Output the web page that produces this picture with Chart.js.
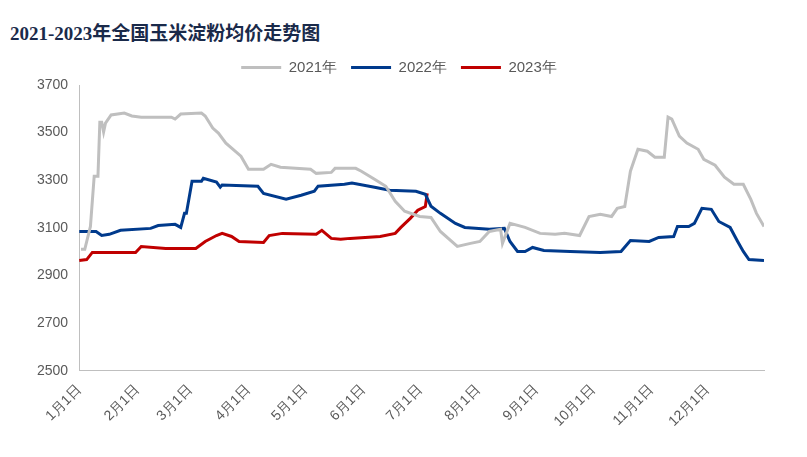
<!DOCTYPE html>
<html>
<head>
<meta charset="utf-8">
<script src="https://cdn.jsdelivr.net/npm/chart.js@4"></script>
<style>
  body { margin: 0; background: #fff; }
  #title { position: absolute; left: 10px; top: 18px; font: bold 19px "Liberation Serif", "Noto Sans CJK SC"; color: #1a2a4a; }
  #wrap { position: absolute; left: 0; top: 46px; width: 800px; height: 411px; }
</style>
</head>
<body>
<div id="title">2021-2023年全国玉米淀粉均价走势图</div>
<div id="wrap"><canvas id="c"></canvas></div>
<script>
"use strict";
const MONTH_DAYS = [0, 31, 59, 90, 120, 151, 181, 212, 243, 273, 304, 334];
const MONTH_LABELS = ["1月1日", "2月1日", "3月1日", "4月1日", "5月1日", "6月1日", "7月1日", "8月1日", "9月1日", "10月1日", "11月1日", "12月1日"];

const days2021 = [1, 3, 6, 8, 10, 11, 12, 13, 14, 17, 24, 28, 33, 49, 51, 54, 65, 67, 71, 74, 78, 86, 90, 98, 102, 107, 123, 126, 134, 136, 147, 150, 157, 163, 168, 173, 181, 187, 192, 201, 208, 213, 218, 224, 225, 229, 237, 245, 253, 258, 266, 271, 277, 283, 286, 290, 293, 297, 302, 306, 311, 313, 315, 319, 323, 329, 332, 338, 343, 348, 353, 357, 360, 364];
const vals2021 = [3010, 3010, 3106, 3317, 3317, 3544, 3544, 3503, 3540, 3574, 3582, 3570, 3565, 3565, 3557, 3578, 3582, 3570, 3519, 3498, 3456, 3401, 3346, 3346, 3367, 3355, 3346, 3329, 3333, 3350, 3350, 3338, 3304, 3275, 3212, 3170, 3148, 3144, 3085, 3022, 3035, 3043, 3085, 3094, 3035, 3119, 3102, 3077, 3073, 3077, 3068, 3148, 3157, 3148, 3182, 3190, 3338, 3430, 3422, 3397, 3397, 3565, 3557, 3485, 3456, 3430, 3388, 3363, 3313, 3283, 3283, 3220, 3161, 3106];

const days2022 = [0, 9, 12, 16, 22, 38, 42, 51, 54, 56, 57, 60, 65, 66, 73, 75, 76, 95, 98, 110, 118, 125, 127, 141, 145, 157, 165, 179, 184, 187, 192, 200, 205, 218, 226, 229, 233, 237, 241, 247, 261, 277, 288, 293, 303, 308, 316, 318, 324, 327, 331, 336, 340, 346, 350, 353, 356, 364];
const vals2022 = [3085, 3085, 3068, 3073, 3090, 3098, 3110, 3115, 3102, 3161, 3161, 3296, 3296, 3308, 3292, 3271, 3280, 3275, 3245, 3220, 3237, 3254, 3275, 3283, 3288, 3271, 3258, 3254, 3241, 3191, 3161, 3119, 3102, 3094, 3098, 3043, 3001, 3001, 3018, 3005, 3001, 2997, 3001, 3047, 3043, 3060, 3064, 3106, 3106, 3119, 3182, 3178, 3127, 3102, 3043, 3001, 2967, 2963];

const days2023 = [0, 4, 7, 30, 33, 46, 62, 67, 73, 76, 81, 85, 98, 101, 108, 126, 129, 134, 139, 144, 160, 168, 171, 176, 180, 184, 185];
const vals2023 = [2963, 2967, 2997, 2997, 3022, 3014, 3014, 3043, 3068, 3077, 3064, 3043, 3039, 3068, 3077, 3073, 3090, 3056, 3052, 3056, 3064, 3077, 3102, 3140, 3174, 3190, 3245];

function pts(days, vals) {
  return days.map((d, i) => ({ x: d, y: vals[i] }));
}

function series(label, days, vals, color) {
  return {
    label: label,
    data: pts(days, vals),
    borderColor: color,
    backgroundColor: color,
    borderWidth: 3,
    pointRadius: 0,
    tension: 0,
  };
}

const tickFont = { family: "Liberation Sans", size: 14 };

new Chart(document.getElementById("c"), {
  type: "line",
  data: {
    datasets: [
      series("2021年", days2021, vals2021, "#bfbfbf"),
      series("2022年", days2022, vals2022, "#003a8c"),
      series("2023年", days2023, vals2023, "#c00000"),
    ],
  },
  options: {
    responsive: true,
    maintainAspectRatio: false,
    animation: false,
    layout: { padding: { right: 36, left: 34, bottom: 24 } },
    plugins: {
      legend: {
        position: "top",
        labels: {
          usePointStyle: true,
          pointStyle: "line",
          pointStyleWidth: 40,
          color: "#595959",
          font: { family: "Liberation Sans", size: 15 },
          padding: 14,
          boxHeight: 3,
        },
      },
      tooltip: { enabled: false },
    },
    scales: {
      x: {
        type: "linear",
        min: 0,
        max: 364,
        afterBuildTicks: axis => {
          axis.ticks = MONTH_DAYS.map(d => ({ value: d }));
        },
        ticks: {
          callback: v => MONTH_LABELS[MONTH_DAYS.indexOf(v)],
          minRotation: 45,
          maxRotation: 45,
          autoSkip: false,
          color: "#595959",
          font: tickFont,
        },
        grid: { display: false },
        border: { color: "#bfbfbf" },
      },
      y: {
        min: 2500,
        max: 3700,
        ticks: { stepSize: 200, color: "#595959", font: tickFont, callback: v => String(v) },
        grid: { display: false },
        border: { color: "#bfbfbf" },
      },
    },
  },
});
</script>
</body>
</html>
